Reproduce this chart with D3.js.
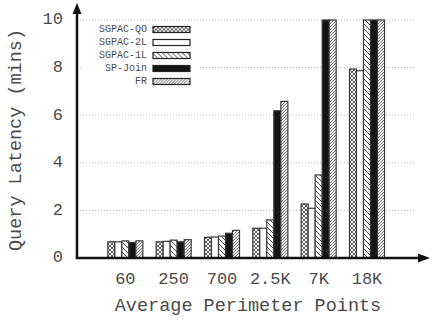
<!DOCTYPE html>
<html>
<head>
<meta charset="utf-8">
<script src="https://cdn.jsdelivr.net/npm/d3@7"></script>
<style>
  body { margin: 0; background: #fff; }
  text { font-family: "Liberation Mono", "DejaVu Sans Mono", monospace; fill: #4a4a4a; }
</style>
</head>
<body>
<div id="chart"></div>
<script>
var w = 432,
    h = 322;

var groups = ["60", "250", "700", "2.5K", "7K", "18K"];
var series = ["SGPAC-QO", "SGPAC-2L", "SGPAC-1L", "SP-Join", "FR"];
var yTicks = [0, 2, 4, 6, 8, 10];

// latency in minutes, bars taller than 10 are clipped at the axis top
var qo    = [0.68, 0.68, 0.87, 1.25, 2.27, 7.94];
var twoL  = [0.68, 0.70, 0.88, 1.25, 2.09, 7.87];
var oneL  = [0.72, 0.75, 0.92, 1.60, 3.49, 10];
var join  = [0.65, 0.68, 1.04, 6.19, 10, 10];
var fr    = [0.72, 0.77, 1.16, 6.58, 10, 10];
var values = [qo, twoL, oneL, join, fr];

var fills = ["url(#pQO)", "#fff", "url(#p1L)", "#151515", "url(#pFR)"];

var x = d3.scaleLinear().domain([0, 7.2]).range([77, 425]);
var y = d3.scaleLinear().domain([0, 10]).range([258, 20]);
var barW = 0.145; // in x units

var svg = d3.select("#chart").append("svg")
    .attr("width", w)
    .attr("height", h);

var defs = svg.append("defs");

// crosshatch
var p = defs.append("pattern").attr("id", "pQO")
    .attr("patternUnits", "userSpaceOnUse").attr("width", 4).attr("height", 4);
p.append("rect").attr("width", 4).attr("height", 4).attr("fill", "#fff");
p.append("path").attr("d", "M0,0L4,4M4,0L0,4")
    .attr("stroke", "#333").attr("stroke-width", 0.8);

// wide back slash
p = defs.append("pattern").attr("id", "p1L")
    .attr("patternUnits", "userSpaceOnUse").attr("width", 5).attr("height", 5);
p.append("rect").attr("width", 5).attr("height", 5).attr("fill", "#fff");
p.append("path").attr("d", "M0,0L5,5M-1,4L1,6M4,-1L6,1")
    .attr("stroke", "#333").attr("stroke-width", 0.9);

// dense forward slash
p = defs.append("pattern").attr("id", "pFR")
    .attr("patternUnits", "userSpaceOnUse").attr("width", 3).attr("height", 3);
p.append("rect").attr("width", 3).attr("height", 3).attr("fill", "#fff");
p.append("path").attr("d", "M0,3L3,0M-1,1L1,-1M2,4L4,2")
    .attr("stroke", "#444").attr("stroke-width", 0.8);

// grid
svg.selectAll(".grid")
    .data(yTicks.slice(1))
    .enter().append("line")
    .attr("class", "grid")
    .attr("x1", x(0)).attr("x2", 415)
    .attr("y1", function(d) { return y(d); })
    .attr("y2", function(d) { return y(d); })
    .attr("stroke", "#bbb")
    .attr("stroke-width", 1)
    .attr("stroke-dasharray", "1,2");

// bars
var bars = [];
values.forEach(function(vals, s) {
    vals.forEach(function(v, g) {
        bars.push({ s: s, g: g, v: v });
    });
});

svg.selectAll(".bar")
    .data(bars)
    .enter().append("rect")
    .attr("class", "bar")
    .attr("x", function(d) { return x(d.g + 1 + (d.s - 2.5) * barW); })
    .attr("width", x(barW) - x(0))
    .attr("y", function(d) { return y(d.v); })
    .attr("height", function(d) { return y(0) - y(d.v); })
    .attr("fill", function(d) { return fills[d.s]; })
    .attr("stroke", "#3a3a3a")
    .attr("stroke-width", 1.2);

// legend
var lg = svg.append("g");
lg.append("rect")
    .attr("x", 82).attr("y", 22).attr("width", 116).attr("height", 68)
    .attr("fill", "#fff");
var items = lg.selectAll(".item")
    .data(series)
    .enter().append("g")
    .attr("transform", function(d, i) { return "translate(0," + (29.5 + i * 13) + ")"; });
items.append("text")
    .attr("x", 147).attr("y", 0)
    .attr("text-anchor", "end")
    .attr("dominant-baseline", "middle")
    .style("font-size", "10px")
    .text(function(d) { return d; });
items.append("rect")
    .attr("x", 153).attr("y", -3)
    .attr("width", 37).attr("height", 6)
    .attr("fill", function(d, i) { return fills[i]; })
    .attr("stroke", "#222")
    .attr("stroke-width", 1.2);

// axes
svg.append("line")
    .attr("x1", x(0)).attr("x2", x(0))
    .attr("y1", y(0) + 1).attr("y2", 12)
    .attr("stroke", "#111").attr("stroke-width", 2.5);
svg.append("path")
    .attr("d", "M" + (x(0) - 4.5) + ",14L" + x(0) + ",3L" + (x(0) + 4.5) + ",14Z")
    .attr("fill", "#111");
svg.append("line")
    .attr("x1", x(0) - 1.2).attr("x2", 420)
    .attr("y1", y(0)).attr("y2", y(0))
    .attr("stroke", "#111").attr("stroke-width", 2.5);
svg.append("path")
    .attr("d", "M418," + (y(0) - 4.5) + "L430," + y(0) + "L418," + (y(0) + 4.5) + "Z")
    .attr("fill", "#111");

// tick labels
svg.selectAll(".ytick")
    .data(yTicks)
    .enter().append("text")
    .attr("x", 63)
    .attr("y", function(d) { return y(d); })
    .attr("text-anchor", "end")
    .attr("dominant-baseline", "middle")
    .style("font-size", "17px")
    .text(function(d) { return d; });

svg.selectAll(".xtick")
    .data(groups)
    .enter().append("text")
    .attr("x", function(d, i) { return x(i + 1); })
    .attr("y", 280)
    .attr("text-anchor", "middle")
    .attr("dominant-baseline", "middle")
    .style("font-size", "17px")
    .text(function(d) { return d; });

// titles
svg.append("text")
    .attr("x", 248).attr("y", 306)
    .attr("text-anchor", "middle")
    .attr("dominant-baseline", "middle")
    .style("font-size", "18.5px")
    .text("Average Perimeter Points");

svg.append("text")
    .attr("transform", "translate(16,140) rotate(-90)")
    .attr("text-anchor", "middle")
    .attr("dominant-baseline", "middle")
    .style("font-size", "18.5px")
    .text("Query Latency (mins)");
</script>
</body>
</html>
